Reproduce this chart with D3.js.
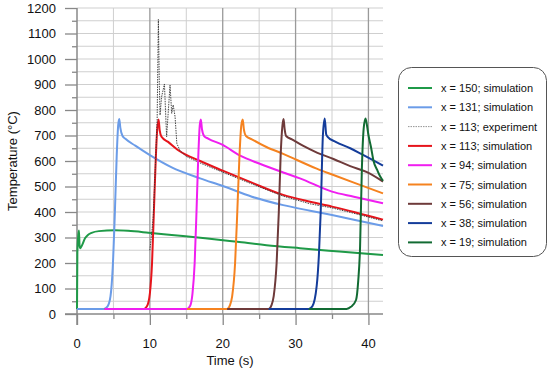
<!DOCTYPE html>
<html>
<head>
<meta charset="utf-8">
<script src="https://cdn.jsdelivr.net/npm/d3@7"></script>
<style>
  body { margin: 0; background: #fff; }
  text { font-family: 'Liberation Sans', Arial, sans-serif; fill: #111; }
</style>
</head>
<body>
<div id="container"></div>
<script>
// time ticks and temperature ticks
const timeTicks = [0, 10, 20, 30, 40]
const tempTicks = [0, 100, 200, 300, 400, 500, 600, 700, 800, 900, 1000, 1100, 1200]

// series: [time (s), temperature (°C)]
const x150 = [[0, 20], [0.05, 240], [0.15, 300], [0.27, 327], [0.35, 268], [0.45, 258], [0.7, 270], [1.1, 297], [1.5, 310], [2, 318], [3, 325], [5.2, 328], [7, 326], [9.8, 319], [13, 310], [17.6, 297], [22, 283], [26, 270], [30.6, 258], [36, 245], [42, 231]]
const x131 = [[0, 20], [3.7, 20], [4.2, 30], [4.6, 70], [4.9, 180], [5.2, 400], [5.45, 620], [5.65, 740], [5.8, 765], [5.95, 730], [6.25, 698], [6.6, 688], [8, 660], [10, 623], [13, 575], [16.9, 532], [20, 502], [24, 460], [28.3, 427], [32, 405], [35, 388], [38, 370], [42, 345]]
const x113exp = [[10.0, 250], [10.3, 330], [10.45, 375], [10.6, 470], [10.85, 650], [11.0, 760], [11.17, 1155], [11.3, 900], [11.4, 780], [11.6, 850], [12.0, 902], [12.3, 695], [12.77, 898], [13.0, 787], [13.2, 820], [13.46, 774], [13.7, 669], [14.15, 640], [15, 618], [16.9, 592], [20, 556], [24, 510], [28.3, 462], [32, 432], [35, 416], [38, 395], [42, 365]]
const x113 = [[3.8, 20], [9.2, 20], [9.6, 30], [10, 80], [10.3, 200], [10.55, 400], [10.8, 600], [11.0, 720], [11.2, 763], [11.35, 720], [11.6, 695], [12.5, 675], [14, 640], [16.9, 600], [20, 562], [24, 515], [28.3, 467], [32, 440], [35, 421], [38, 400], [42, 370]]
const x94 = [[3.8, 20], [15.1, 20], [15.5, 30], [15.85, 80], [16.15, 200], [16.4, 400], [16.65, 620], [16.85, 740], [17.0, 763], [17.15, 725], [17.45, 698], [18, 688], [20, 663], [22.4, 621], [25, 590], [28.3, 555], [30.6, 532], [35, 480], [38, 460], [42, 434]]
const x75 = [[15.1, 20], [20.6, 20], [21.0, 35], [21.3, 70], [21.7, 200], [22.0, 400], [22.3, 620], [22.55, 740], [22.75, 763], [22.9, 725], [23.2, 698], [24, 685], [26, 655], [28.3, 628], [32.9, 570], [35.2, 545], [38, 515], [42, 473]]
const x56 = [[20.6, 20], [26.3, 20], [26.7, 35], [27.0, 70], [27.4, 200], [27.7, 400], [27.95, 620], [28.2, 740], [28.35, 765], [28.5, 725], [28.7, 698], [29.5, 685], [31, 660], [33, 632], [35.2, 608], [37.5, 580], [39.8, 556], [42, 519]]
const x38 = [[26.3, 20], [31.8, 20], [32.3, 30], [32.9, 110], [33.2, 230], [33.45, 400], [33.75, 700], [34.0, 767], [34.2, 705], [34.4, 695], [35.5, 675], [37.5, 650], [39, 628], [42, 582]]
const x19 = [[31.8, 20], [37.0, 20], [37.6, 28], [38.3, 55], [38.6, 130], [38.85, 260], [39.1, 570], [39.35, 728], [39.6, 767], [39.8, 740], [40.0, 702], [40.35, 655], [40.7, 600], [41.2, 565], [41.6, 540], [42, 522]]

const seriesLabels = ['x = 150; simulation', 'x = 131; simulation', 'x = 113; experiment', 'x = 113; simulation', 'x = 94; simulation', 'x = 75; simulation', 'x = 56; simulation', 'x = 38; simulation', 'x = 19; simulation']
const seriesValues = [x150, x131, x113exp, x113, x94, x75, x56, x38, x19]
const seriesColors = ['#1f9a48', '#6b9ce8', '#333333', '#e6141b', '#f01ef0', '#f5821f', '#6e3a3a', '#143c9a', '#126b33']

const series = seriesLabels.map((label, i) => ({
  label: label,
  values: seriesValues[i],
  color: seriesColors[i],
  dotted: label.indexOf('experiment') > -1
}))

const w = 550
const h = 373
const margin = { left: 77, right: 167, top: 8, bottom: 59 }

const svg = d3.select('#container')
  .append('svg')
  .attr('width', w)
  .attr('height', h)

//SCALES
const x = d3.scaleLinear()
  .domain([0, 42])
  .range([margin.left, w - margin.right])

const y = d3.scaleLinear()
  .domain([0, 1200])
  .range([h - margin.bottom, margin.top])

//GRID
const grid = svg.append('g')

grid.selectAll('.hgrid')
  .data(d3.range(50, 1201, 50))
  .enter()
  .append('line')
  .attr('x1', x(0))
  .attr('x2', x(42))
  .attr('y1', d => y(d))
  .attr('y2', d => y(d))
  .attr('stroke', '#cfcfcf')
  .attr('stroke-width', 1)

grid.selectAll('.vgrid')
  .data(d3.range(5, 41, 5))
  .enter()
  .append('line')
  .attr('x1', d => x(d))
  .attr('x2', d => x(d))
  .attr('y1', y(0))
  .attr('y2', y(1200))
  .attr('stroke', d => d % 10 === 0 ? '#9a9a9a' : '#cfcfcf')
  .attr('stroke-width', d => d % 10 === 0 ? 1.3 : 1)

//AXES
const xAxis = d3.axisBottom(x)
  .tickValues(d3.range(0, 41, 5))
  .tickSize(0)
  .tickFormat('')

const yAxis = d3.axisLeft(y)
  .tickValues(d3.range(0, 1201, 50))
  .tickSize(0)
  .tickFormat('')

const gx = svg.append('g')
  .attr('transform', `translate(0,${y(0)})`)
  .call(xAxis)

gx.select('.domain').remove()
gx.selectAll('.tick line')
  .attr('y2', d => d % 10 === 0 ? 11 : 5)
  .attr('stroke', '#888')
  .attr('stroke-width', 1.3)

gx.append('line')
  .attr('x1', x(0) - 12)
  .attr('x2', x(42))
  .attr('stroke', '#888')
  .attr('stroke-width', 1.5)

const gy = svg.append('g')
  .attr('transform', `translate(${x(0)},0)`)
  .call(yAxis)

gy.select('.domain').remove()
gy.selectAll('.tick line')
  .attr('x2', d => d % 100 === 0 ? -12 : -5)
  .attr('stroke', '#888')
  .attr('stroke-width', 1.3)

gy.append('line')
  .attr('y1', y(1200))
  .attr('y2', y(0) + 11)
  .attr('stroke', '#888')
  .attr('stroke-width', 1.5)

//TICK LABELS
svg.selectAll('.xlabel')
  .data(timeTicks)
  .enter()
  .append('text')
  .attr('x', d => x(d))
  .attr('y', 348)
  .attr('text-anchor', 'middle')
  .attr('font-size', 13)
  .text(d => d)

svg.selectAll('.ylabel')
  .data(tempTicks)
  .enter()
  .append('text')
  .attr('x', 56)
  .attr('y', d => y(d) + 4.5)
  .attr('text-anchor', 'end')
  .attr('font-size', 13)
  .text(d => d)

svg.append('text')
  .attr('x', (x(0) + x(42)) / 2)
  .attr('y', 365)
  .attr('text-anchor', 'middle')
  .attr('font-size', 13)
  .text('Time (s)')

svg.append('text')
  .attr('transform', `translate(17,${(y(0) + y(1200)) / 2}) rotate(-90)`)
  .attr('text-anchor', 'middle')
  .attr('font-size', 13)
  .text('Temperature (°C)')

//LINES
const simLine = d3.line()
  .x(d => x(d[0]))
  .y(d => y(d[1]))
  .curve(d3.curveMonotoneX)

const expLine = d3.line()
  .x(d => x(d[0]))
  .y(d => y(d[1]))

// red under the experiment, the rest in legend order
const drawOrder = [0, 1, 3, 2, 4, 5, 6, 7, 8]

svg.append('g')
  .selectAll('path')
  .data(drawOrder.map(i => series[i]))
  .enter()
  .append('path')
  .attr('d', d => d.dotted ? expLine(d.values) : simLine(d.values))
  .attr('fill', 'none')
  .attr('stroke', d => d.color)
  .attr('stroke-width', d => d.dotted ? 0.9 : 2)
  .attr('stroke-dasharray', d => d.dotted ? '1.5,1' : null)
  .attr('stroke-linejoin', 'round')

//LEGEND
const legend = svg.append('g')

legend.append('rect')
  .attr('x', 398.5)
  .attr('y', 67.5)
  .attr('width', 148)
  .attr('height', 189)
  .attr('rx', 13)
  .attr('fill', '#fff')
  .attr('stroke', '#555')
  .attr('stroke-width', 1)

const rows = legend.selectAll('.row')
  .data(series)
  .enter()
  .append('g')
  .attr('transform', (d, i) => `translate(0,${88 + i * 19.3})`)

rows.append('line')
  .attr('x1', 408)
  .attr('x2', 432)
  .attr('stroke', d => d.dotted ? '#888' : d.color)
  .attr('stroke-width', d => d.dotted ? 0.9 : 2)
  .attr('stroke-dasharray', d => d.dotted ? '1.5,1' : null)

rows.append('text')
  .attr('x', 441)
  .attr('y', 4)
  .attr('font-size', 11)
  .text(d => d.label)
</script>
</body>
</html>
